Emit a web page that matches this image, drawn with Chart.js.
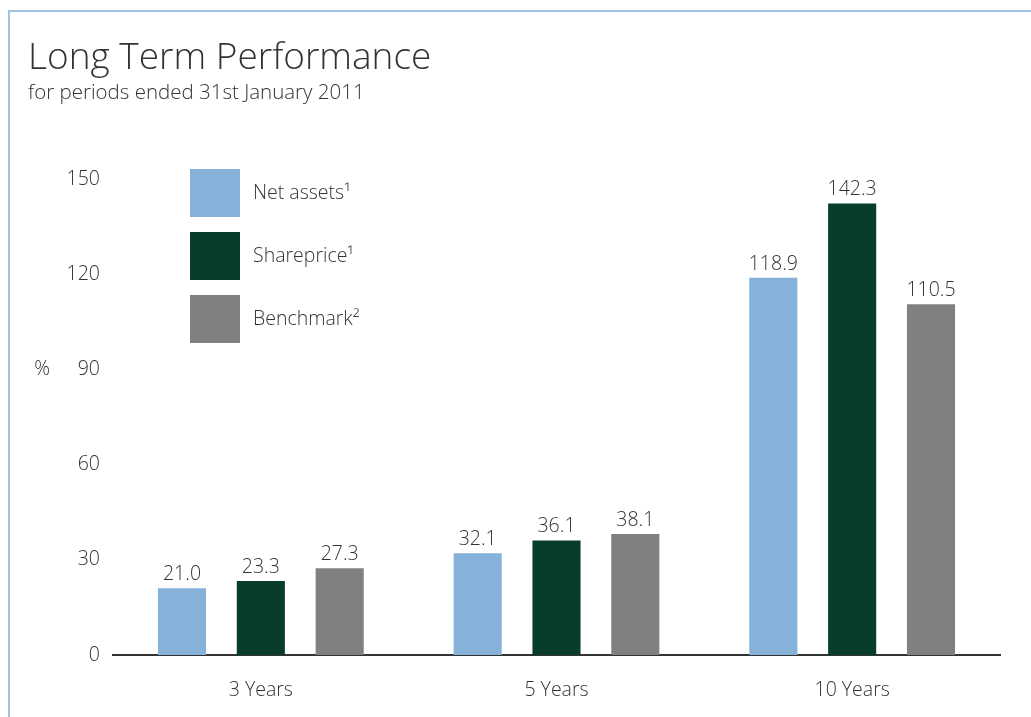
<!DOCTYPE html>
<html>
<head>
<meta charset="utf-8">
<script src="https://cdn.jsdelivr.net/npm/chart.js@4/dist/chart.umd.min.js"></script>
<style>
  body { margin: 0; background: #fff; overflow: hidden; }
  #wrap { position: relative; width: 1031px; height: 717px; }
  canvas { display: block; }
  #frame {
    position: absolute; left: 8px; top: 10px; right: 0; bottom: 0;
    border-top: 2px solid #9fc4e3; border-left: 2px solid #9fc4e3;
    pointer-events: none;
  }
</style>
</head>
<body>
<div id="wrap">
  <canvas id="perfChart" width="1031" height="717"></canvas>
  <div id="frame"></div>
</div>
<script>
const categories = ["3 Years", "5 Years", "10 Years"];
const seriesNames = ["Net assets\u00b9", "Shareprice\u00b9", "Benchmark\u00b2"];
const netAssets = [21.0, 32.1, 118.9];
const sharePrice = [23.3, 36.1, 142.3];
const benchmark = [27.3, 38.1, 110.5];
const yTicks = [0, 30, 60, 90, 120, 150];

const colours = ["#86b1d9", "#083d2d", "#808081"];
const textColour = "#333333";
const fontFamily = "'Open Sans', 'Noto Sans', sans-serif";
const smallFont = "300 19.5px " + fontFamily;

// value labels above every bar
const valueLabels = {
    id: 'valueLabels',
    afterDatasetsDraw(chart) {
        const ctx = chart.ctx;
        ctx.save();
        ctx.font = smallFont;
        ctx.fillStyle = textColour;
        ctx.textAlign = 'center';
        ctx.textBaseline = 'alphabetic';
        chart.data.datasets.forEach((ds, i) => {
            chart.getDatasetMeta(i).data.forEach((bar, j) => {
                ctx.fillText(ds.data[j].toFixed(1), bar.x, bar.y - 8);
            });
        });
        ctx.restore();
    }
};

// square legend inside the plot + the "%" unit label
const boxLegend = {
    id: 'boxLegend',
    afterDraw(chart) {
        const ctx = chart.ctx;
        const area = chart.chartArea;
        ctx.save();
        ctx.font = smallFont;
        ctx.textBaseline = 'middle';
        ctx.textAlign = 'left';
        chart.data.datasets.forEach((ds, i) => {
            const x = area.left + 77;
            const y = area.top - 10 + i * 63;
            ctx.fillStyle = ds.backgroundColor;
            ctx.fillRect(x, y, 50, 48);
            ctx.fillStyle = textColour;
            ctx.fillText(ds.label, x + 63, y + 24);
        });
        const yScale = chart.scales.y;
        ctx.textAlign = 'center';
        ctx.fillText('%', area.left - 71, yScale.getPixelForValue(90));
        ctx.restore();
    }
};

const ctx = document.getElementById('perfChart').getContext('2d');
const perfChart = new Chart(ctx, {
    type: 'bar',
    data: {
        labels: categories,
        datasets: [
            { label: seriesNames[0], data: netAssets, backgroundColor: colours[0] },
            { label: seriesNames[1], data: sharePrice, backgroundColor: colours[1] },
            { label: seriesNames[2], data: benchmark, backgroundColor: colours[2] }
        ]
    },
    options: {
        responsive: false,
        animation: false,
        datasets: {
            bar: { categoryPercentage: 0.8, barPercentage: 0.61 }
        },
        layout: { padding: { left: 28, right: 31, top: 0, bottom: 12 } },
        plugins: {
            legend: { display: false },
            tooltip: { enabled: false },
            title: {
                display: true,
                text: 'Long Term Performance',
                align: 'start',
                color: textColour,
                font: { family: fontFamily, size: 37, weight: '300' },
                padding: { top: 36, bottom: 0 }
            },
            subtitle: {
                display: true,
                text: 'for periods ended 31st January 2011',
                align: 'start',
                color: textColour,
                font: { family: fontFamily, size: 20.5, weight: '300' },
                padding: { top: 0, bottom: 74 }
            }
        },
        scales: {
            x: {
                afterFit(scale) {
                    scale.height = 50;
                },
                grid: { display: false, drawTicks: false },
                border: { display: true, color: '#333333', width: 2 },
                ticks: { color: textColour, padding: 24, font: { family: fontFamily, size: 19.5, weight: '300' } }
            },
            y: {
                min: 0,
                max: 150,
                afterBuildTicks(scale) {
                    scale.ticks = yTicks.map(v => ({ value: v }));
                },
                afterFit(scale) {
                    scale.width = 85;
                },
                grid: { display: false, drawTicks: false },
                border: { display: false },
                ticks: { color: textColour, padding: 13, font: { family: fontFamily, size: 19.5, weight: '300' } }
            }
        }
    },
    plugins: [valueLabels, boxLegend]
});
</script>
</body>
</html>
